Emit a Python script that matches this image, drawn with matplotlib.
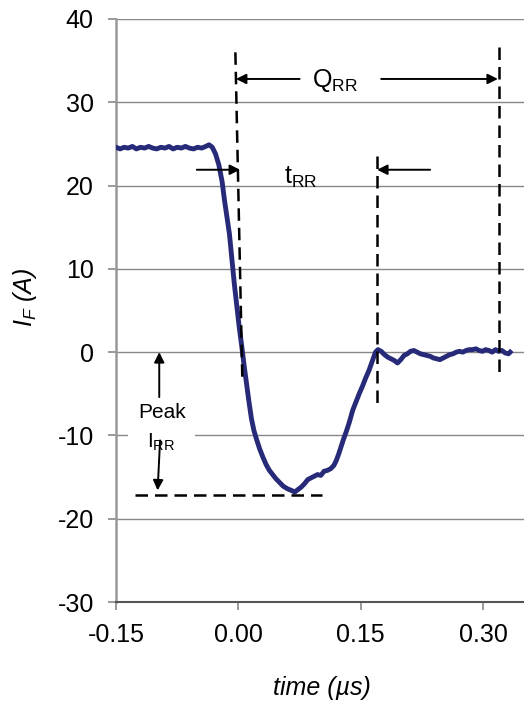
import matplotlib
matplotlib.use("Agg")
import matplotlib.pyplot as plt
from matplotlib.ticker import FormatStrFormatter

plt.rcParams['font.family'] = ['Liberation Sans', 'DejaVu Sans']
plt.rcParams['mathtext.fontset'] = 'custom'
plt.rcParams['mathtext.rm'] = 'Liberation Sans'
plt.rcParams['mathtext.it'] = 'Liberation Sans:italic'
plt.rcParams['mathtext.sf'] = 'Liberation Sans:italic'
plt.rcParams['axes.unicode_minus'] = False

# ---- data ----
time_us = [-0.150, -0.145, -0.140, -0.135, -0.130, -0.125, -0.120, -0.115, -0.110, -0.105,
           -0.100, -0.095, -0.090, -0.085, -0.080, -0.075, -0.070, -0.065, -0.060, -0.055,
           -0.050, -0.045, -0.040, -0.036, -0.032, -0.028, -0.024, -0.020, -0.017, -0.014,
           -0.011, -0.008, -0.005, -0.002, 0.001, 0.004, 0.007, 0.010, 0.013, 0.016,
           0.019, 0.022, 0.026, 0.030, 0.034, 0.038, 0.042, 0.046, 0.050, 0.055,
           0.060, 0.065, 0.069, 0.073, 0.077, 0.081, 0.085, 0.089, 0.093, 0.097,
           0.101, 0.105, 0.109, 0.113, 0.117, 0.120, 0.123, 0.126, 0.129, 0.132,
           0.136, 0.140, 0.144, 0.148, 0.152, 0.156, 0.160, 0.164, 0.168, 0.171,
           0.175, 0.179, 0.183, 0.187, 0.191, 0.195, 0.199, 0.203, 0.207, 0.211,
           0.215, 0.219, 0.223, 0.227, 0.231, 0.235, 0.239, 0.243, 0.247, 0.251,
           0.255, 0.259, 0.263, 0.267, 0.271, 0.275, 0.279, 0.283, 0.287, 0.291,
           0.295, 0.299, 0.303, 0.307, 0.311, 0.315, 0.319, 0.323, 0.327, 0.331, 0.333]
current_a = [24.6, 24.4, 24.6, 24.5, 24.7, 24.4, 24.6, 24.5, 24.7, 24.5,
             24.4, 24.6, 24.5, 24.7, 24.4, 24.6, 24.5, 24.7, 24.5, 24.4,
             24.6, 24.5, 24.7, 24.9, 24.6, 23.8, 22.5, 20.5, 18.2, 16.2,
             14.2, 11.2, 8.2, 5.6, 3.0, 0.8, -1.6, -3.8, -6.0, -8.0,
             -9.4, -10.4, -11.6, -12.6, -13.5, -14.2, -14.7, -15.2, -15.6, -16.1,
             -16.4, -16.6, -16.8, -16.5, -16.2, -15.8, -15.3, -15.1, -14.9, -14.7,
             -14.8, -14.3, -14.2, -14.0, -13.6, -13.0, -12.2, -11.3, -10.4, -9.6,
             -8.4, -7.0, -6.0, -5.0, -4.1, -3.1, -2.2, -1.1, 0.0, 0.3,
             0.1, -0.3, -0.6, -0.8, -1.0, -1.3, -0.9, -0.4, -0.2, 0.1,
             0.2, 0.0, -0.2, -0.3, -0.4, -0.5, -0.7, -0.8, -0.9, -0.7,
             -0.5, -0.3, -0.2, 0.0, 0.1, 0.0, 0.2, 0.3, 0.3, 0.4,
             0.2, 0.1, 0.3, 0.2, 0.0, 0.3, 0.1, 0.2, -0.1, -0.2, 0.0]

x_ticks = [-0.15, 0.00, 0.15, 0.30]
y_ticks = [-30, -20, -10, 0, 10, 20, 30, 40]

fig = plt.figure(figsize=(5.24, 7.06), dpi=100)
W, H = 524, 706
ax = fig.add_axes([116 / W, (H - 602) / H, (524 - 116) / W, (602 - 19) / H])

ax.set_xlim(-0.15, 0.35)
ax.set_ylim(-30, 40)
ax.set_xticks(x_ticks)
ax.set_yticks(y_ticks)
ax.xaxis.set_major_formatter(FormatStrFormatter('%.2f'))
ax.tick_params(axis='both', direction='out', length=6, width=1.2, color='#888888',
               labelsize=18)
ax.tick_params(axis='y', pad=10)
ax.tick_params(axis='x', pad=9)

for s in ['top', 'right']:
    ax.spines[s].set_visible(False)
ax.spines['left'].set_color('#999999')
ax.spines['left'].set_linewidth(1.8)
ax.spines['bottom'].set_color('#555555')
ax.spines['bottom'].set_linewidth(1.5)

ax.yaxis.grid(True, color='#888888', linewidth=1.0)
ax.set_axisbelow(True)

ax.plot(time_us, current_a, color='#272a78', linewidth=3.5, solid_joinstyle='round', zorder=3)

dash = dict(color='black', linewidth=1.8, linestyle=(0, (5, 2.8)), zorder=4)
# dashed markers
ax.plot([-0.0037, 0.0049], [36.0, -3.6], **dash)
ax.plot([0.170, 0.170], [23.6, -6.1], **dash)
ax.plot([0.319, 0.319], [36.6, -2.8], **dash)
ax.plot([-0.127, 0.103], [-17.1, -17.1], **dash)

arr = dict(arrowstyle='-|>', color='black', lw=1.4, mutation_scale=15, shrinkA=0, shrinkB=0)
# Q_RR arrows
ax.annotate('', xy=(-0.003, 32.8), xytext=(0.075, 32.8), arrowprops=arr, zorder=5)
ax.annotate('', xy=(0.318, 32.8), xytext=(0.175, 32.8), arrowprops=arr, zorder=5)
ax.text(0.118, 32.6, r'$\mathregular{Q_{RR}}$', fontsize=18, ha='center', va='center')
# t_RR arrows
ax.annotate('', xy=(0.002, 21.9), xytext=(-0.051, 21.9), arrowprops=arr, zorder=5)
ax.annotate('', xy=(0.170, 21.9), xytext=(0.235, 21.9), arrowprops=arr, zorder=5)
ax.text(0.076, 21.0, r'$\mathregular{t_{RR}}$', fontsize=18, ha='center', va='center')
# Peak I_RR arrows
ax.annotate('', xy=(-0.097, 0.0), xytext=(-0.097, -5.4), arrowprops=arr, zorder=5)
ax.annotate('', xy=(-0.099, -16.6), xytext=(-0.096, -10.6), arrowprops=arr, zorder=5)
ax.text(-0.094, -7.2, 'Peak', fontsize=15, ha='center', va='center', zorder=6)
ax.text(-0.094, -10.8, r'$\mathregular{I_{RR}}$', fontsize=15, ha='center', va='center',
        zorder=3.5, bbox=dict(facecolor='white', edgecolor='none', pad=14))

fig.text(322 / W, 1 - 688 / H, 'time (µs)', fontsize=18, fontstyle='italic',
         ha='center', va='center')
fig.text(25 / W, 1 - 297 / H, r'$\mathsf{I_F\ (A)}$', fontsize=18, rotation=90,
         ha='center', va='center')

fig.savefig('out.png', dpi=100)
